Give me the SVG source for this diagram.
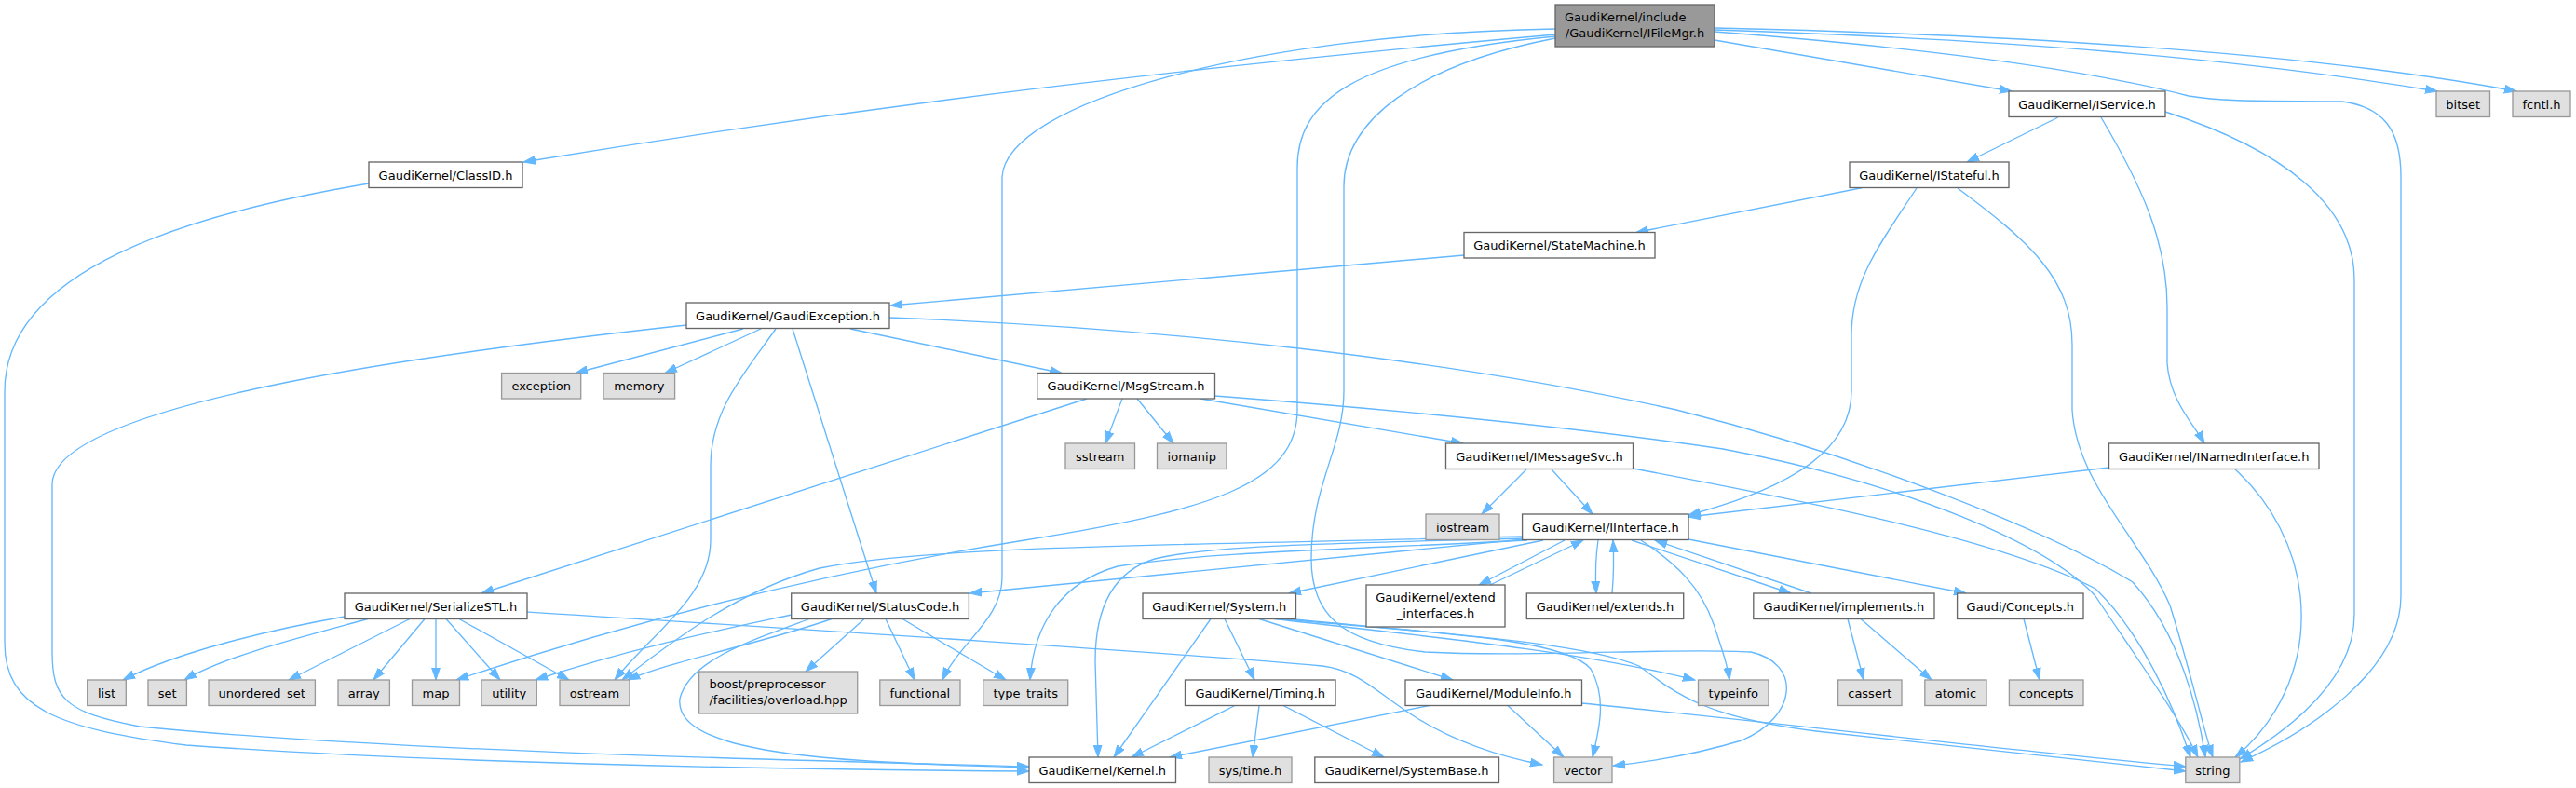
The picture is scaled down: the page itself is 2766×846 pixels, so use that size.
<svg xmlns="http://www.w3.org/2000/svg" width="2766" height="846" viewBox="0 0 2766 846">
<style>
text{font-family:"DejaVu Sans","Liberation Sans",sans-serif;font-size:13px;fill:#000}
.n rect{fill:#fff;stroke:#666;stroke-width:1.33}
.g rect{fill:#e0e0e0;stroke:#999;stroke-width:1.33}
.r rect{fill:#999;stroke:#666;stroke-width:1.33}
.c text{text-anchor:middle}
#edges path{fill:none;stroke:#63b8ff;stroke-width:1.33;marker-end:url(#ah)}
</style>
<defs>
<marker id="ah" markerUnits="userSpaceOnUse" markerWidth="14" markerHeight="10" refX="13" refY="5" orient="auto" viewBox="0 0 14 10"><path d="M0,0.6 L13,5 L0,9.4 z" fill="#63b8ff" stroke="#63b8ff" stroke-width="1"/></marker>
</defs>
<rect width="2766" height="846" fill="#fff"/>
<g id="edges">
<path d="M1670,37 C1300,70 950,110 562,174"/>
<path d="M1841,43 L2160,98"/>
<path d="M1841,32 C2150,42 2400,62 2617,98"/>
<path d="M1841,30 C2200,38 2500,60 2702,98"/>
<path d="M1841,34 C2050,50 2230,72 2350,103 C2390,110 2450,108 2515,109 C2560,115 2578,140 2578,190 L2578,640 C2578,720 2480,785 2406,818"/>
<path d="M1670,31 C1350,36 1080,110 1076,190 L1076,620 C1076,665 1030,690 1012,730"/>
<path d="M1670,39 C1450,60 1393,110 1393,180 L1393,440 C1393,520 1300,548 1100,580 C900,612 700,660 490,730"/>
<path d="M1670,41 C1520,70 1443,130 1443,200 L1443,420 C1443,480 1408,520 1408,600 C1408,660 1440,690 1530,700 C1650,706 1800,695 1880,700 C1935,712 1930,770 1870,795 C1820,810 1770,818 1732,822"/>
<path d="M396,197 C200,230 5,290 5,420 L5,690 C5,760 60,782 200,800 C450,818 800,826 1105,828"/>
<path d="M737,349 C500,375 56,430 56,520 L56,700 C56,750 70,765 150,780 C400,805 800,815 1105,823"/>
<path d="M2210,126 L2112,174"/>
<path d="M2256,126 C2300,200 2327,260 2327,330 L2327,390 C2330,430 2355,455 2367,476"/>
<path d="M2325,120 C2450,160 2528,220 2528,300 L2528,660 C2528,730 2460,782 2405,815"/>
<path d="M2000,201.5 L1757,249.5"/>
<path d="M2058,202 C2020,260 1988,300 1988,360 L1988,420 C1988,480 1930,522 1813,553"/>
<path d="M2102,202 C2180,260 2225,300 2225,370 L2225,440 C2230,520 2300,580 2330,650 C2352,720 2365,780 2376,813"/>
<path d="M1572,274 L956,328"/>
<path d="M798,353 L618,400.5"/>
<path d="M817,353 L714,400.5"/>
<path d="M833,353 C800,400 763,440 763,500 L763,580 C763,640 700,680 660,730"/>
<path d="M851,353 L941,637"/>
<path d="M913,353 L1140,400.5"/>
<path d="M955,341 C1250,352 1550,385 1800,440 C2000,490 2200,570 2290,625 C2340,680 2360,760 2368,813"/>
<path d="M1167,428 L517,637"/>
<path d="M1205,428 L1187,476"/>
<path d="M1221,428 L1260,476"/>
<path d="M1289,428 L1571,476"/>
<path d="M1304.5,425 C1500,440 1700,460 1850,482 C2050,520 2200,585 2250,640 C2290,700 2340,770 2360,813"/>
<path d="M1639,504 L1591,552"/>
<path d="M1666,504 L1710,552"/>
<path d="M1753.5,503 C1950,540 2150,580 2250,632 C2300,680 2335,760 2352,813"/>
<path d="M2264.5,502 L1813,555"/>
<path d="M2400,504 C2440,540 2465,590 2470,640 C2478,720 2440,780 2400,813"/>
<path d="M1657,580 L1384,637"/>
<path d="M1680,580 L1588,628"/>
<path d="M1600,628 L1700,580"/>
<path d="M1716,580 C1713,600 1713,620 1714,637"/>
<path d="M1731,637 C1733,615 1733,600 1732,580"/>
<path d="M1752,580 L1923,637"/>
<path d="M1945,637 L1777,580"/>
<path d="M1762,580 C1800,605 1826,630 1840,670 C1850,700 1855,715 1857,730"/>
<path d="M1813,579 L2111,637"/>
<path d="M1634.6,578 C1450,583 1300,585 1240,600 C1190,615 1176,660 1176,710 L1179,813"/>
<path d="M1640,580 C1450,590 1300,592 1200,608 C1140,625 1110,670 1106,730"/>
<path d="M1636,579 L1041,637"/>
<path d="M1634.6,576 C1300,585 1000,585 880,610 C790,635 720,690 668,730"/>
<path d="M1300,664.5 L1196,813"/>
<path d="M1315,664.5 L1347,730"/>
<path d="M1352,664.5 L1560,730"/>
<path d="M1368,664.5 C1550,685 1700,700 1820,730"/>
<path d="M1372,664.5 C1550,680 1680,686 1708,718 C1725,748 1718,780 1710,813"/>
<path d="M1378,664 C1550,680 1700,690 1760,715 C1800,745 1830,770 1950,785 C2100,802 2250,818 2347,828"/>
<path d="M1326,757.5 L1215,813"/>
<path d="M1352,757.5 L1345,813"/>
<path d="M1378,757.5 L1486,813"/>
<path d="M1535,757.5 L1256,813"/>
<path d="M1619,757.5 L1679,813"/>
<path d="M1698.5,755 C1900,775 2150,805 2347,823"/>
<path d="M370,662 C290,676 190,700 132,730"/>
<path d="M395,664.5 C320,685 240,705 198,730"/>
<path d="M440,664.5 L310,730"/>
<path d="M456,664.5 L401,730"/>
<path d="M468,664.5 L468,730"/>
<path d="M479,664.5 L537,730"/>
<path d="M493,664.5 L611,730"/>
<path d="M566,657 C900,678 1250,700 1420,715 C1460,720 1480,745 1520,770 C1560,795 1610,812 1656,821"/>
<path d="M850,660 C780,675 680,695 575,730"/>
<path d="M869,664.5 C800,690 740,710 730,750 C725,790 800,810 950,818 C1020,822 1070,823 1105,824"/>
<path d="M893,664.5 C820,690 720,710 674,730"/>
<path d="M928,664.5 L865,721"/>
<path d="M951,664.5 L982,730"/>
<path d="M969,664.5 L1080,730"/>
<path d="M1984,664.5 L2001,730"/>
<path d="M1998,664.5 L2074,730"/>
<path d="M2173,664.5 L2190,730"/>
</g>
<g id="n_IFileMgr" class="r"><rect x="1670" y="5" width="171" height="45"/><text x="1680" y="22.5">GaudiKernel/include</text><text x="1755.5" y="39.5" text-anchor="middle">/GaudiKernel/IFileMgr.h</text></g>
<g id="n_IService" class="n c"><rect x="2157" y="98" width="168" height="27.5"/><text x="2241" y="116.7">GaudiKernel/IService.h</text></g>
<g id="n_bitset" class="g c"><rect x="2616" y="98" width="57.5" height="27.5"/><text x="2644.75" y="116.7">bitset</text></g>
<g id="n_fcntl" class="g c"><rect x="2698" y="98" width="62" height="27.5"/><text x="2729" y="116.7">fcntl.h</text></g>
<g id="n_ClassID" class="n c"><rect x="396" y="174" width="165" height="27.5"/><text x="478.5" y="192.7">GaudiKernel/ClassID.h</text></g>
<g id="n_IStateful" class="n c"><rect x="1986" y="174" width="171" height="27.5"/><text x="2071.5" y="192.7">GaudiKernel/IStateful.h</text></g>
<g id="n_StateMachine" class="n c"><rect x="1572" y="249.5" width="205" height="27.5"/><text x="1674.5" y="268.2">GaudiKernel/StateMachine.h</text></g>
<g id="n_GaudiException" class="n c"><rect x="737" y="325" width="218" height="27.5"/><text x="846" y="343.7">GaudiKernel/GaudiException.h</text></g>
<g id="n_exception" class="g c"><rect x="538.6" y="400.5" width="85.1" height="27.5"/><text x="581.15" y="419.2">exception</text></g>
<g id="n_memory" class="g c"><rect x="648" y="400.5" width="76.6" height="27.5"/><text x="686.3" y="419.2">memory</text></g>
<g id="n_MsgStream" class="n c"><rect x="1113.7" y="400.5" width="190.8" height="27.5"/><text x="1209.1" y="419.2">GaudiKernel/MsgStream.h</text></g>
<g id="n_sstream" class="g c"><rect x="1144" y="476" width="74.5" height="27.5"/><text x="1181.25" y="494.7">sstream</text></g>
<g id="n_iomanip" class="g c"><rect x="1242.5" y="476" width="74.5" height="27.5"/><text x="1279.75" y="494.7">iomanip</text></g>
<g id="n_IMessageSvc" class="n c"><rect x="1552.5" y="476" width="201" height="27.5"/><text x="1653" y="494.7">GaudiKernel/IMessageSvc.h</text></g>
<g id="n_INamedInterface" class="n c"><rect x="2264.5" y="476" width="225.5" height="27.5"/><text x="2377.25" y="494.7">GaudiKernel/INamedInterface.h</text></g>
<g id="n_iostream" class="g c"><rect x="1531" y="552" width="79" height="27.5"/><text x="1570.5" y="570.7">iostream</text></g>
<g id="n_IInterface" class="n c"><rect x="1634.6" y="552" width="178.4" height="27.5"/><text x="1723.8" y="570.7">GaudiKernel/IInterface.h</text></g>
<g id="n_SerializeSTL" class="n c"><rect x="370" y="637" width="196" height="27.5"/><text x="468" y="655.7">GaudiKernel/SerializeSTL.h</text></g>
<g id="n_StatusCode" class="n c"><rect x="849.7" y="637" width="190.7" height="27.5"/><text x="945.05" y="655.7">GaudiKernel/StatusCode.h</text></g>
<g id="n_System" class="n c"><rect x="1227" y="637" width="164.5" height="27.5"/><text x="1309.25" y="655.7">GaudiKernel/System.h</text></g>
<g id="n_extend_interfaces" class="n c"><rect x="1467" y="628" width="149" height="45"/><text x="1541.5" y="645.5">GaudiKernel/extend</text><text x="1541.5" y="662.5">_interfaces.h</text></g>
<g id="n_extends" class="n c"><rect x="1639.3" y="637" width="168.4" height="27.5"/><text x="1723.5" y="655.7">GaudiKernel/extends.h</text></g>
<g id="n_implements" class="n c"><rect x="1882.8" y="637" width="194.2" height="27.5"/><text x="1979.9" y="655.7">GaudiKernel/implements.h</text></g>
<g id="n_Concepts" class="n c"><rect x="2101.6" y="637" width="135.4" height="27.5"/><text x="2169.3" y="655.7">Gaudi/Concepts.h</text></g>
<g id="n_list" class="g c"><rect x="93.7" y="730" width="41.6" height="27.5"/><text x="114.5" y="748.7">list</text></g>
<g id="n_set" class="g c"><rect x="159" y="730" width="41.4" height="27.5"/><text x="179.7" y="748.7">set</text></g>
<g id="n_unordered_set" class="g c"><rect x="224" y="730" width="114.4" height="27.5"/><text x="281.2" y="748.7">unordered_set</text></g>
<g id="n_array" class="g c"><rect x="363" y="730" width="55.4" height="27.5"/><text x="390.7" y="748.7">array</text></g>
<g id="n_map" class="g c"><rect x="442.5" y="730" width="51" height="27.5"/><text x="468" y="748.7">map</text></g>
<g id="n_utility" class="g c"><rect x="517" y="730" width="59.3" height="27.5"/><text x="546.65" y="748.7">utility</text></g>
<g id="n_ostream" class="g c"><rect x="601" y="730" width="75" height="27.5"/><text x="638.5" y="748.7">ostream</text></g>
<g id="n_boost" class="g"><rect x="750.6" y="721" width="170.1" height="45"/><text x="761.5" y="738.5">boost/preprocessor</text><text x="835.65" y="755.5" text-anchor="middle">/facilities/overload.hpp</text></g>
<g id="n_functional" class="g c"><rect x="944.8" y="730" width="86.2" height="27.5"/><text x="987.9" y="748.7">functional</text></g>
<g id="n_type_traits" class="g c"><rect x="1055.7" y="730" width="91" height="27.5"/><text x="1101.2" y="748.7">type_traits</text></g>
<g id="n_Timing" class="n c"><rect x="1272.5" y="730" width="161.5" height="27.5"/><text x="1353.25" y="748.7">GaudiKernel/Timing.h</text></g>
<g id="n_ModuleInfo" class="n c"><rect x="1509" y="730" width="189.5" height="27.5"/><text x="1603.75" y="748.7">GaudiKernel/ModuleInfo.h</text></g>
<g id="n_typeinfo" class="g c"><rect x="1823.5" y="730" width="75.5" height="27.5"/><text x="1861.25" y="748.7">typeinfo</text></g>
<g id="n_cassert" class="g c"><rect x="1973.6" y="730" width="68.4" height="27.5"/><text x="2007.8" y="748.7">cassert</text></g>
<g id="n_atomic" class="g c"><rect x="2066.8" y="730" width="66.2" height="27.5"/><text x="2099.9" y="748.7">atomic</text></g>
<g id="n_concepts" class="g c"><rect x="2157.4" y="730" width="79.6" height="27.5"/><text x="2197.2" y="748.7">concepts</text></g>
<g id="n_Kernel" class="n c"><rect x="1105" y="813" width="157.5" height="27.5"/><text x="1183.75" y="831.7">GaudiKernel/Kernel.h</text></g>
<g id="n_systime" class="g c"><rect x="1298" y="813" width="89" height="27.5"/><text x="1342.5" y="831.7">sys/time.h</text></g>
<g id="n_SystemBase" class="n c"><rect x="1411.8" y="813" width="197.7" height="27.5"/><text x="1510.65" y="831.7">GaudiKernel/SystemBase.h</text></g>
<g id="n_vector" class="g c"><rect x="1668.6" y="813" width="62.4" height="27.5"/><text x="1699.8" y="831.7">vector</text></g>
<g id="n_string" class="g c"><rect x="2346.8" y="813" width="58" height="27.5"/><text x="2375.8" y="831.7">string</text></g>
</svg>
